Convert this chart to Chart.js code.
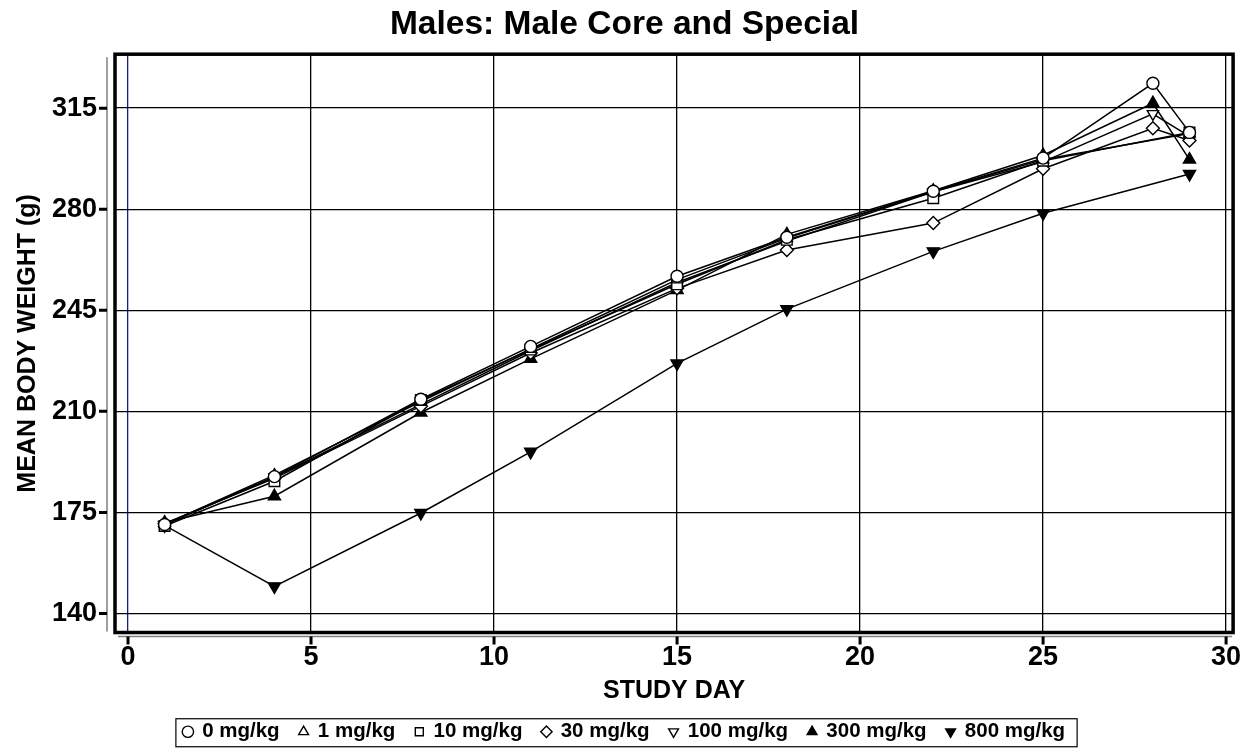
<!DOCTYPE html>
<html>
<head>
<meta charset="utf-8">
<script src="https://cdn.jsdelivr.net/npm/chart.js@4.4.1/dist/chart.umd.min.js"></script>
<style>
  html, body { margin: 0; padding: 0; background: #ffffff; }
  #wrap { width: 1241px; height: 752px; }
</style>
</head>
<body>
<div id="wrap"><canvas id="c" width="1241" height="752"></canvas></div>
<script>
const days   = [1, 4, 8, 11, 15, 18, 22, 25, 28, 29];
const g0     = [170.8, 187.4, 214.2, 232.5, 256.8, 270.3, 286.2, 297.7, 323.6, 306.6];
const g1     = [170.9, 187.9, 213.4, 231.6, 255.6, 270.0, 286.0, 297.2, null, 306.2];
const g10    = [170.3, 185.8, 213.9, 231.4, 254.0, 269.4, 283.8, 296.8, null, 306.6];
const g30    = [171.2, 186.8, 211.8, 230.2, 252.6, 265.9, 275.2, 294.0, 308.0, 303.8];
const g100   = [170.8, 187.2, 212.4, 231.0, 254.6, 269.0, 286.0, 296.4, 313.0, 305.2];
const g300   = [171.5, 180.6, 209.6, 228.2, 252.0, 271.3, 286.4, 298.7, 316.7, 297.2];
const g800   = [170.5, 149.4, 174.8, 196.0, 226.6, 245.4, 265.4, 278.6, null, 292.2];
const seriesNames = ['0 mg/kg', '1 mg/kg', '10 mg/kg', '30 mg/kg', '100 mg/kg', '300 mg/kg', '800 mg/kg'];
const xTicks = [0, 5, 10, 15, 20, 25, 30];
const yTicks = [140, 175, 210, 245, 280, 315];

const seriesValues = [g0, g1, g10, g30, g100, g300, g800];
const markerStyle = [
  {s: 'circle',   r: 6,   rot: 0,   fill: '#ffffff'},
  {s: 'triangle', r: 6.5, rot: 0,   fill: '#ffffff'},
  {s: 'rect',     r: 7.5, rot: 0,   fill: '#ffffff'},
  {s: 'rectRot',  r: 6.5, rot: 0,   fill: '#ffffff'},
  {s: 'triangle', r: 6.5, rot: 180, fill: '#ffffff'},
  {s: 'triangle', r: 7,   rot: 0,   fill: '#000000'},
  {s: 'triangle', r: 7,   rot: 180, fill: '#000000'}
];

const datasets = seriesValues.map((vals, i) => ({
  label: seriesNames[i],
  data: days.map((d, k) => ({x: d, y: vals[k]})),
  borderColor: '#000000',
  backgroundColor: markerStyle[i].fill,
  borderWidth: 1.5,
  pointStyle: markerStyle[i].s,
  pointRadius: markerStyle[i].r,
  pointRotation: markerStyle[i].rot,
  pointBackgroundColor: markerStyle[i].fill,
  pointBorderColor: '#000000',
  pointBorderWidth: 1.4,
  fill: false,
  tension: 0,
  spanGaps: true
}));

const FONT = '"Liberation Sans", Arial, Helvetica, sans-serif';

const framePlugin = {
  id: 'frame',
  afterDraw(chart) {
    const {ctx, chartArea: a} = chart;
    const xs = chart.scales.x, ys = chart.scales.y;
    ctx.save();
    ctx.strokeStyle = '#808080';
    ctx.lineWidth = 1.5;
    ctx.beginPath();
    ctx.moveTo(a.left - 9, a.top + 2);
    ctx.lineTo(a.left - 9, a.bottom);
    ctx.moveTo(a.left + 2, a.bottom + 5);
    ctx.lineTo(a.right, a.bottom + 5);
    ctx.stroke();
    ctx.strokeStyle = '#000000';
    ctx.lineWidth = 3;
    ctx.beginPath();
    yTicks.forEach(v => {
      const y = ys.getPixelForValue(v);
      ctx.moveTo(a.left - 17, y);
      ctx.lineTo(a.left - 9, y);
    });
    xTicks.forEach(v => {
      const x = xs.getPixelForValue(v);
      ctx.moveTo(x, a.bottom + 5);
      ctx.lineTo(x, a.bottom + 13);
    });
    ctx.stroke();
    ctx.lineWidth = 3.5;
    ctx.strokeRect(a.left - 1, a.top - 1, a.right - a.left + 2, a.bottom - a.top + 2);
    const lg = chart.legend;
    if (lg && lg.legendHitBoxes && lg.legendHitBoxes.length) {
      const hb = lg.legendHitBoxes;
      const first = hb[0], last = hb[hb.length - 1];
      const cy = first.top + first.height / 2;
      ctx.lineWidth = 1.2;
      ctx.strokeRect(first.left - 8, cy - 13, (last.left + last.width) - first.left + 20, 28);
    }
    ctx.restore();
  }
};

function zeroPad(scale) {
  scale.paddingLeft = 0; scale.paddingRight = 0;
  scale.paddingTop = 0; scale.paddingBottom = 0;
}

new Chart(document.getElementById('c'), {
  type: 'line',
  data: { datasets },
  options: {
    responsive: false,
    animation: false,
    devicePixelRatio: 1,
    layout: { padding: { left: 12, right: 4, top: 0, bottom: 0 } },
    plugins: {
      title: {
        display: true,
        text: 'Males: Male Core and Special',
        color: '#000000',
        font: { family: FONT, size: 33.5, weight: 'bold' },
        padding: { top: 5, bottom: 10 }
      },
      legend: {
        display: true,
        position: 'bottom',
        labels: {
          usePointStyle: true,
          boxWidth: 8,
          boxHeight: 8,
          color: '#000000',
          font: { family: FONT, size: 20.5, weight: 'bold' },
          padding: 20
        }
      },
      tooltip: { enabled: false }
    },
    scales: {
      x: {
        type: 'linear',
        min: -0.328,
        max: 30.164,
        afterFit(scale) { scale.height = 70; zeroPad(scale); },
        afterBuildTicks(scale) { scale.ticks = xTicks.map(v => ({value: v})); },
        border: { display: false },
        grid: {
          drawTicks: false,
          lineWidth: 1.3,
          color: ctx => (ctx.tick && ctx.tick.value === 0) ? '#10207f' : '#000000'
        },
        ticks: {
          color: '#000000',
          padding: 10,
          font: { family: FONT, size: 27, weight: 'bold' },
          maxRotation: 0
        },
        title: {
          display: true,
          text: 'STUDY DAY',
          color: '#000000',
          font: { family: FONT, size: 25, weight: 'bold' },
          padding: { top: 0, bottom: -5 }
        }
      },
      y: {
        type: 'linear',
        min: 133.77,
        max: 333.33,
        afterFit(scale) { scale.width = 104; zeroPad(scale); },
        afterBuildTicks(scale) { scale.ticks = yTicks.map(v => ({value: v})); },
        border: { display: false },
        grid: { drawTicks: false, lineWidth: 1.3, color: '#000000' },
        ticks: {
          color: '#000000',
          padding: 19,
          font: { family: FONT, size: 27, weight: 'bold' }
        },
        title: {
          display: true,
          text: 'MEAN BODY WEIGHT (g)',
          color: '#000000',
          font: { family: FONT, size: 25, weight: 'bold' },
          padding: { top: 1, bottom: 0 }
        }
      }
    }
  },
  plugins: [framePlugin]
});
</script>
</body>
</html>
